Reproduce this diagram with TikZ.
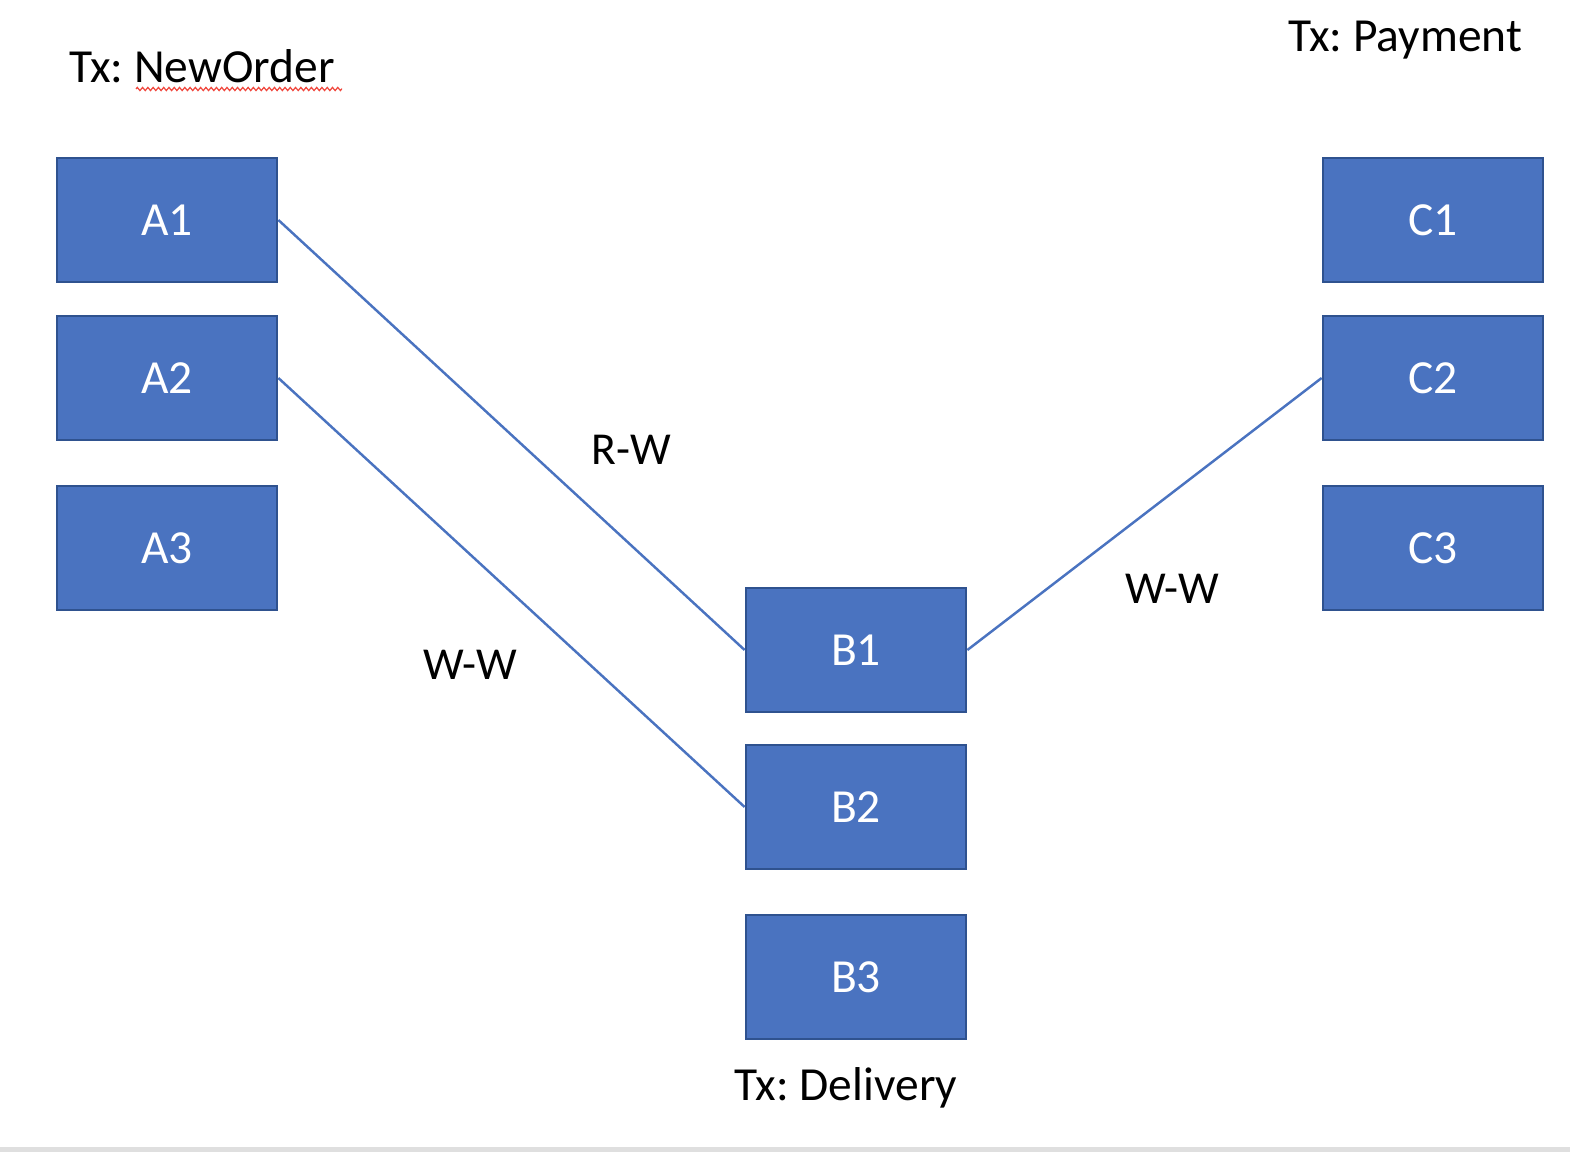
\documentclass[tikz,border=0pt]{standalone}
\usepackage{fontspec}
\setmainfont{Carlito}
\usepackage{tikz}
\usetikzlibrary{decorations.pathmorphing}

\definecolor{boxblue}{HTML}{4A73C0}
\definecolor{boxedge}{HTML}{2F528F}
\definecolor{spellred}{HTML}{F0463C}
\frenchspacing

\begin{document}
\begin{tikzpicture}[x=0.01cm,y=-0.01cm,
  block/.style={draw=boxedge,line width=0.75pt,fill=boxblue,text=white,
    minimum width=2.2cm,minimum height=1.24cm,inner sep=0pt,
    font=\fontsize{13.5pt}{16pt}\selectfont},
  txlabel/.style={anchor=base,inner sep=0pt,font=\fontsize{13.5pt}{16pt}\selectfont},
  dep/.style={anchor=base,inner sep=0pt,font=\fontsize{13pt}{15pt}\selectfont}]
\useasboundingbox (0,0) rectangle (1570,1152);
\fill[gray!25] (0,1147) rectangle (1570,1152);

  \node[block] (A1) at (167,220) {A1};
  \node[block] (A2) at (167,378) {A2};
  \node[block] (A3) at (167,548) {A3};
  \node[block] (B1) at (856,650) {B1};
  \node[block] (B2) at (856,807) {B2};
  \node[block] (B3) at (856,977) {B3};
  \node[block] (C1) at (1433,220) {C1};
  \node[block] (C2) at (1433,378) {C2};
  \node[block] (C3) at (1433,548) {C3};

  \node[txlabel] (neworder) at (202,83) {Tx: NewOrder};
  \node[txlabel] (payment)  at (1405,52) {Tx: Payment};
  \node[txlabel] (delivery) at (846,1100) {Tx: Delivery};

  \node[dep] (rw)  at (631,465) {R-W};
  \node[dep] (ww1) at (470,679) {W-W};
  \node[dep] (ww2) at (1172,603) {W-W};

\draw[spellred,line width=0.35pt,decorate,
  decoration={zigzag,amplitude=0.45pt,segment length=1.5pt}] (136,89) -- (342,89);

\tikzset{link/.style={draw=boxblue,line width=0.7pt}}
\path (A1.east) edge [link] (B1.west)
      (A2.east) edge [link] (B2.west)
      (B1.east) edge [link] (C2.west);
\end{tikzpicture}
\end{document}
